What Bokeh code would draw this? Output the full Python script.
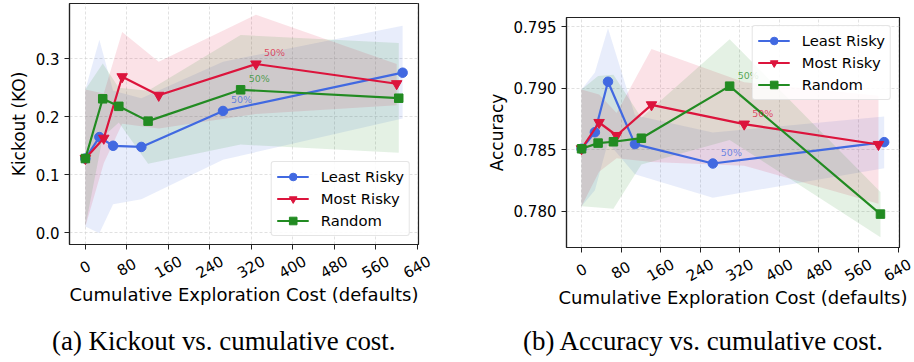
import math
from bokeh.plotting import figure
from bokeh.layouts import row, column
from bokeh.models import (Range1d, FixedTicker, PrintfTickFormatter, Legend,
                          LegendItem, Label, LinearAxis, Div, Spacer,
                          CustomLabelingPolicy)
from bokeh.embed import file_html
from bokeh.resources import INLINE

# ---- data: cumulative exploration cost per strategy ----
cost_least = [0, 27, 53.5, 108, 265.5, 612]
cost_most = [0, 35.5, 71, 141.5, 329, 600.5]
cost_random = [0, 33.5, 64.5, 121, 299.5, 604.5]

# kickout (mean, lower, upper)
ko_least = [0.128, 0.165, 0.150, 0.148, 0.210, 0.276]
ko_least_lo = [0.011, -0.001, 0.049, 0.058, 0.126, 0.197]
ko_least_hi = [0.247, 0.333, 0.245, 0.232, 0.295, 0.357]
ko_most = [0.128, 0.163, 0.269, 0.237, 0.291, 0.257]
ko_most_lo = [0.011, 0.120, 0.188, 0.180, 0.205, 0.220]
ko_most_hi = [0.247, 0.240, 0.346, 0.295, 0.376, 0.291]
ko_random = [0.128, 0.231, 0.218, 0.1925, 0.2465, 0.232]
ko_random_lo = [0.011, 0.165, 0.190, 0.119, 0.152, 0.138]
ko_random_hi = [0.247, 0.292, 0.250, 0.245, 0.341, 0.327]

# accuracy (mean, lower, upper)
acc_least = [0.78508, 0.78643, 0.79054, 0.78546, 0.78388, 0.78562]
acc_least_lo = [0.7804, 0.7817, 0.7856, 0.7830, 0.7811, 0.7835]
acc_least_hi = [0.7899, 0.7913, 0.7949, 0.7878, 0.7864, 0.7877]
acc_most = [0.78508, 0.78722, 0.78616, 0.78866, 0.78709, 0.78543]
acc_most_lo = [0.7804, 0.7832, 0.7843, 0.7840, 0.7837, 0.7806]
acc_most_hi = [0.7899, 0.7895, 0.7880, 0.7932, 0.7905, 0.7894]
acc_random = [0.78508, 0.78554, 0.78565, 0.78594, 0.79018, 0.77976]
acc_random_lo = [0.7804, 0.7803, 0.7802, 0.7838, 0.7858, 0.77788]
acc_random_hi = [0.7899, 0.7910, 0.7911, 0.7876, 0.7940, 0.78155]

# index of the point where half of the budget is spent
half_idx = 4
half_label = "50%"

x_ticks = [0, 80, 160, 240, 320, 400, 480, 560, 640]
ko_ticks = [0.0, 0.1, 0.2, 0.3]
acc_ticks = [0.780, 0.785, 0.790, 0.795]

names = ["Least Risky", "Most Risky", "Random"]
colors = ["#4169E1", "#DC143C", "#228B22"]
markers = ["circle", "inverted_triangle", "square"]
marker_sizes = [9.5, 10.5, 8.5]

captions = ["(a) Kickout vs. cumulative cost.",
            "(b) Accuracy vs. cumulative cost."]

FONT = "DejaVu Sans"
NBSP = "\u00a0"
FIG_W, ROW_H, CAPTION_H = 457, 330, 32
RIGHT_DROP = 14  # the accuracy panel starts a little lower
# rotated tick labels are anchored at their start; move the anchor left so
# that a three-digit label ends up centred under its tick
LABEL_SHIFT_PX = 12.4
# same visual rotation as pi/6, but negative so the labels are left-anchored
LABEL_ANGLE = math.pi / 6 - 2 * math.pi


def style_axis(ax):
    ax.axis_line_color = "#222222"
    ax.axis_line_width = 1.2
    ax.major_tick_in = 0
    ax.major_tick_out = 5
    ax.major_tick_line_color = "#222222"
    ax.minor_tick_line_color = None
    ax.major_label_text_font = FONT
    ax.major_label_text_font_size = "15px"
    ax.major_label_text_color = "black"
    ax.axis_label_text_font = FONT
    ax.axis_label_text_font_size = "17px"
    ax.axis_label_text_font_style = "normal"
    ax.axis_label_text_color = "black"


def make_panel(series, ylabel, y_range, y_ticks, y_fmt, x_range, height,
               borders, legend_loc):
    left, right, top, bottom = borders
    p = figure(width=FIG_W, height=height, output_backend="svg",
               toolbar_location=None, title=None,
               x_range=Range1d(*x_range), y_range=Range1d(*y_range),
               min_border_left=left, min_border_right=right,
               min_border_top=top, min_border_bottom=bottom)
    p.background_fill_color = "white"
    p.border_fill_color = "white"
    p.outline_line_color = "#222222"
    p.outline_line_width = 1.2

    # bottom axis: tick marks only
    style_axis(p.xaxis[0])
    p.xaxis.ticker = FixedTicker(ticks=x_ticks)
    p.xaxis.major_label_standoff = 0
    p.xaxis.major_label_policy = CustomLabelingPolicy(
        code="return new indices.constructor(indices.size)")

    # second bottom axis carries the rotated tick labels and the title
    frame_w = FIG_W - left - right
    px_per_unit = frame_w / (x_range[1] - x_range[0])
    shift = LABEL_SHIFT_PX / px_per_unit
    p.extra_x_ranges = {"labels": Range1d(x_range[0] + shift,
                                          x_range[1] + shift)}
    lab_ax = LinearAxis(x_range_name="labels",
                        ticker=FixedTicker(ticks=x_ticks))
    style_axis(lab_ax)
    lab_ax.axis_line_color = None
    lab_ax.major_tick_line_color = None
    lab_ax.major_tick_out = 0
    lab_ax.major_label_standoff = 10
    lab_ax.major_label_orientation = LABEL_ANGLE
    lab_ax.major_label_overrides = {0: NBSP * 2 + "0", 80: NBSP + "80"}
    lab_ax.axis_label = "Cumulative Exploration Cost (defaults)"
    lab_ax.axis_label_text_font_size = "18px"
    lab_ax.axis_label_standoff = 0
    p.add_layout(lab_ax, "below")

    style_axis(p.yaxis[0])
    p.yaxis.ticker = FixedTicker(ticks=y_ticks)
    p.yaxis.formatter = PrintfTickFormatter(format=y_fmt)
    p.yaxis.major_label_standoff = 5
    p.yaxis.axis_label = ylabel
    p.yaxis.axis_label_standoff = 4

    for g in (p.xgrid[0], p.ygrid[0]):
        g.grid_line_color = "#cfcfcf"
        g.grid_line_dash = "3 2"
        g.grid_line_width = 0.8
        g.grid_line_alpha = 0.8
    p.xgrid.ticker = FixedTicker(ticks=x_ticks)
    p.ygrid.ticker = FixedTicker(ticks=y_ticks)

    # uncertainty bands
    for (xs, ys, lo, hi), c in zip(series, colors):
        p.varea(x=xs, y1=lo, y2=hi, fill_color=c, fill_alpha=0.12)

    items = []
    for (xs, ys, lo, hi), c, m, ms, n in zip(series, colors, markers,
                                             marker_sizes, names):
        lr = p.line(xs, ys, line_color=c, line_width=2.2)
        sr = p.scatter(xs, ys, marker=m, size=ms, fill_color=c,
                       line_color=c)
        items.append(LegendItem(label=n, renderers=[lr, sr]))
        p.add_layout(Label(x=xs[half_idx], y=ys[half_idx], text=half_label,
                           x_offset=8, y_offset=11, text_baseline="middle",
                           text_align="left", text_color=c, text_alpha=0.75,
                           text_font=FONT, text_font_size="9.5px"))

    legend = Legend(items=items, location=legend_loc)
    legend.label_text_font = FONT
    legend.label_text_font_size = "14.8px"
    legend.label_text_color = "black"
    legend.glyph_width = 32
    legend.glyph_height = 19
    legend.label_height = 19
    legend.label_standoff = 12
    legend.spacing = 3
    legend.padding = 5
    legend.margin = 8
    legend.border_line_color = "#cccccc"
    legend.border_line_width = 1
    legend.border_radius = 3
    legend.background_fill_alpha = 0.85
    p.add_layout(legend)
    return p


def make_caption(text, indent):
    return Div(text=text, width=FIG_W, height=CAPTION_H, margin=0,
               styles={"font-family": "'Liberation Serif', serif",
                       "font-size": "26.9px", "line-height": "22px",
                       "text-indent": f"{indent}px", "white-space": "nowrap",
                       "color": "black"})


ko_series = [
    (cost_least, ko_least, ko_least_lo, ko_least_hi),
    (cost_most, ko_most, ko_most_lo, ko_most_hi),
    (cost_random, ko_random, ko_random_lo, ko_random_hi),
]
acc_series = [
    (cost_least, acc_least, acc_least_lo, acc_least_hi),
    (cost_most, acc_most, acc_most_lo, acc_most_hi),
    (cost_random, acc_random, acc_random_lo, acc_random_hi),
]

p1 = make_panel(ko_series, "Kickout (KO)", (-0.0202, 0.3953), ko_ticks,
                "%.1f", (-30.6, 642.6), ROW_H, (69, 39, 3, 86),
                "bottom_right")
p2 = make_panel(acc_series, "Accuracy", (0.77704, 0.79577), acc_ticks,
                "%.3f", (-30.4, 643.0), ROW_H - RIGHT_DROP, (109, 15, 3, 83),
                "top_right")

layout = column(
    row(column(p1), column(Spacer(width=FIG_W, height=RIGHT_DROP), p2)),
    row(make_caption(captions[0], 52), make_caption(captions[1], 66)))
open("out.html", "w").write(file_html(layout, INLINE))
